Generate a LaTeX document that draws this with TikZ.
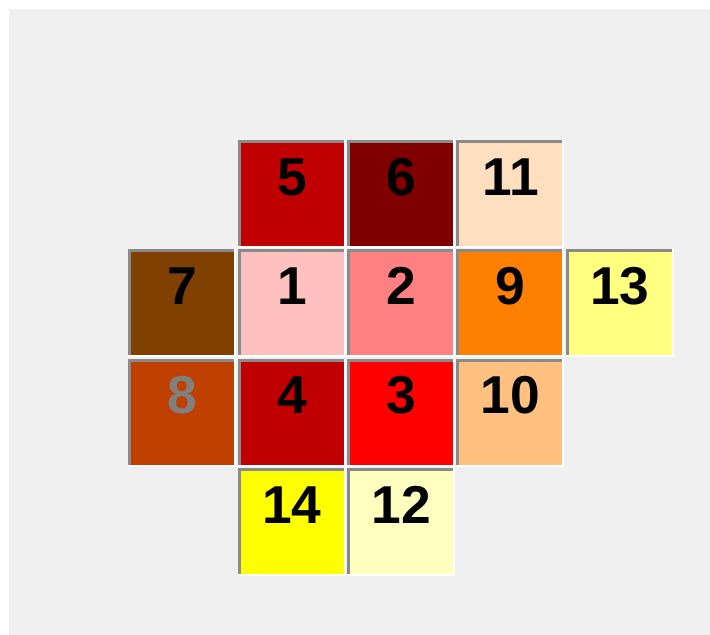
\documentclass[tikz,border=0pt]{standalone}
\usepackage{fontspec}
\setmainfont{Liberation Sans}
\definecolor{bgc}{HTML}{F0F0F0}
\definecolor{bev}{HTML}{8A8A8A}
\definecolor{cA}{HTML}{C00000}
\definecolor{cB}{HTML}{800000}
\definecolor{cC}{HTML}{FFDFC0}
\definecolor{cD}{HTML}{804000}
\definecolor{cE}{HTML}{FFC0C0}
\definecolor{cF}{HTML}{FF8080}
\definecolor{cG}{HTML}{FF8000}
\definecolor{cH}{HTML}{FFFF80}
\definecolor{cI}{HTML}{C04000}
\definecolor{cJ}{HTML}{FF0000}
\definecolor{cK}{HTML}{FFC080}
\definecolor{cL}{HTML}{FFFF00}
\definecolor{cM}{HTML}{FFFFC0}
\definecolor{tgray}{HTML}{808080}
\tikzset{
  cellnode/.style={anchor=north west, inner sep=0pt, outer sep=0pt,
    minimum width=77.25pt, text height=39pt, text depth=38.25pt,
    font=\fontsize{40pt}{40pt}\selectfont\bfseries}
}
\newcommand\cellbox[6]{%
  \fill[white] (#2,#3) rectangle ++(108,108);
  \fill[bev] (#2,#3) rectangle ++(106,106);
  \node[cellnode, fill=#4, text=#6] (#1) at (#2+3,#3+3) {#5};
}
\begin{document}
\begin{tikzpicture}[x=0.75pt,y=-0.75pt]
\fill[white] (0,0) rectangle (710,635);
\fill[bgc] (9,9) rectangle (710,635);
\useasboundingbox (0,0) rectangle (710,635);
% row 0
\cellbox{c5}{237.5}{140}{cA}{5}{black}
\cellbox{c6}{346.8}{140}{cB}{6}{black}
\cellbox{c11}{456}{140}{cC}{11}{black}
% row 1
\cellbox{c7}{127.5}{249.3}{cD}{7}{black}
\cellbox{c1}{237.5}{249.3}{cE}{1}{black}
\cellbox{c2}{346.8}{249.3}{cF}{2}{black}
\cellbox{c9}{456}{249.3}{cG}{9}{black}
\cellbox{c13}{565.5}{249.3}{cH}{13}{black}
% row 2
\cellbox{c8}{127.5}{358.6}{cI}{8}{tgray}
\cellbox{c4}{237.5}{358.6}{cA}{4}{black}
\cellbox{c3}{346.8}{358.6}{cJ}{3}{black}
\cellbox{c10}{456}{358.6}{cK}{10}{black}
% row 3
\cellbox{c14}{237.5}{468}{cL}{14}{black}
\cellbox{c12}{346.8}{468}{cM}{12}{black}
\end{tikzpicture}
\end{document}
